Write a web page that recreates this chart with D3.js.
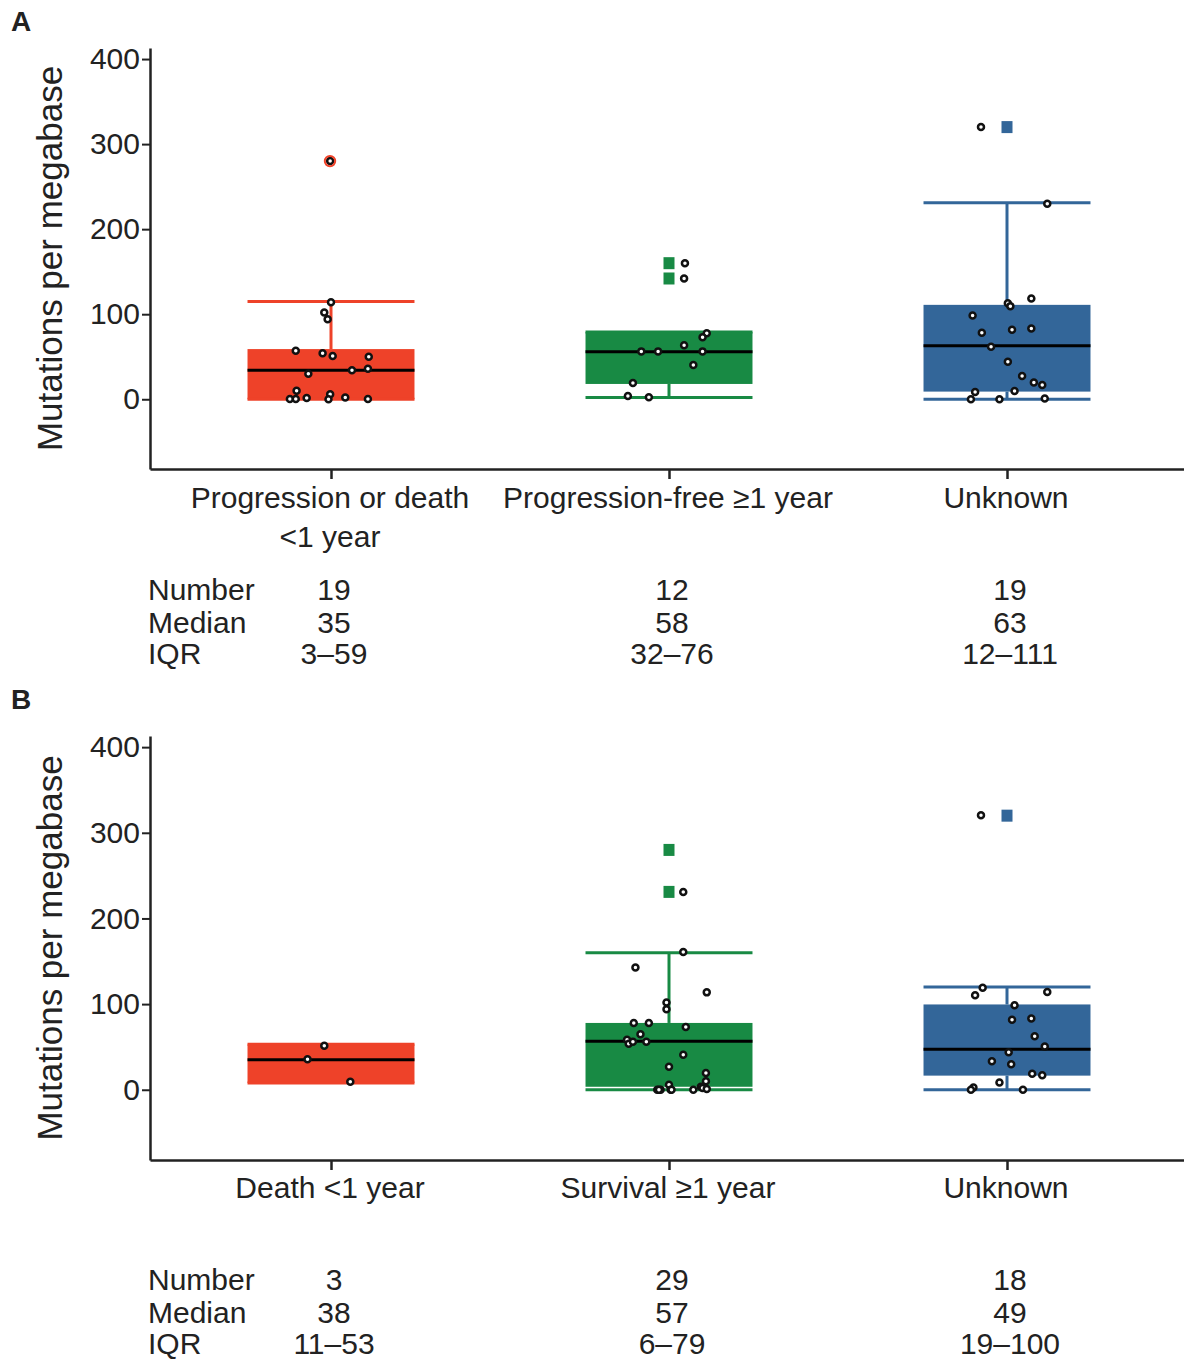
<!DOCTYPE html>
<html><head><meta charset="utf-8">
<script src="https://cdn.jsdelivr.net/npm/d3@7"></script>
<style>
body{margin:0;background:#fff}
text{font-family:"Liberation Sans",Arial,Helvetica,sans-serif;fill:#222}
</style>
</head><body>
<svg id="chart" width="1184" height="1360"></svg>
<script>
// ---------- data ----------
const catsA = [["Progression or death", "<1 year"], ["Progression-free ≥1 year"], ["Unknown"]];
const catsB = [["Death <1 year"], ["Survival ≥1 year"], ["Unknown"]];
const groupColors = ["#ee4229", "#188a44", "#336699"];
const outlierShape = ["circle", "square", "square"];
const yTicks = [0, 100, 200, 300, 400];
const yTitle = "Mutations per megabase";

// Panel A box statistics (as drawn)
const loA = [0, 2, 0];
const q1A = [0, 18, 9];
const medA = [34, 56, 63];
const q3A = [59, 79, 111];
const hiA = [115, 79, 231];
const outA = [[280], [160, 142], [320]];
const ptsA = [
  [280, 114, 102, 94, 57, 54, 51, 50, 30, 34, 36, 10, 0.4, 0.4, 1.5, 6, 0, 2, 0.4],
  [160, 142, 77.5, 72.8, 63.4, 56.3, 56.3, 56.3, 40.3, 19.1, 3.9, 2.3],
  [320, 230, 118.5, 113, 109.5, 98.6, 78.3, 81.8, 83.3, 61.8, 44.2, 27.4, 19.6, 16.8, 9.7, 8.6, 0, 0, 0.8]
];
const jitA = [
  [-0.01, 0, -0.08, -0.04, -0.42, -0.10, 0.02, 0.45, -0.27, 0.25, 0.44, -0.41, -0.49, -0.42, -0.29, -0.01, -0.03, 0.17, 0.44],
  [0.19, 0.18, 0.45, 0.40, 0.18, -0.33, -0.13, 0.40, 0.29, -0.43, -0.49, -0.24],
  [-0.31, 0.48, 0.29, 0.01, 0.04, -0.41, -0.30, 0.06, 0.29, -0.19, 0.01, 0.18, 0.32, 0.42, 0.09, -0.38, -0.43, -0.09, 0.45]
];
const numA = ["19", "12", "19"];
const medTxtA = ["35", "58", "63"];
const iqrA = ["3–59", "32–76", "12–111"];

// Panel B box statistics (as drawn)
const loB = [8, 0, 0];
const q1B = [8, 3.5, 16.5];
const medB = [35, 56.5, 47.4];
const q3B = [53, 78, 99.6];
const hiB = [53, 160, 120];
const outB = [[], [280, 231], [320]];
const ptsB = [
  [51.4, 35.7, 9.4],
  [280, 231, 160.8, 142.7, 113.7, 102, 94, 78, 78, 73.3, 64.7, 58.4, 53.7, 56, 56, 40.8, 27, 19.6, 9.8, 5.9, 3.5, 0, 0, 0, 0, 2, 0.8, 0, 0],
  [320.4, 119.2, 110.2, 114, 98.8, 81.6, 83.1, 62.4, 50.6, 43.9, 33.3, 29.8, 18.8, 16.9, 8.6, 2.7, 0, 0]
];
const jitB = [
  [-0.08, -0.28, 0.23],
  [0, 0.17, 0.17, -0.40, 0.45, -0.03, -0.03, -0.42, -0.24, 0.20, -0.34, -0.50, -0.48, -0.43, -0.27, 0.17, 0, 0.44, 0.44, 0, 0.38, -0.14, -0.10, 0.02, 0.29, 0.40, 0.45, -0.12, 0.03],
  [-0.31, -0.29, -0.38, 0.48, 0.09, 0.06, 0.29, 0.33, 0.45, 0.02, -0.18, 0.05, 0.30, 0.42, -0.09, -0.40, -0.43, 0.19]
];
const numB = ["3", "29", "18"];
const medTxtB = ["38", "57", "49"];
const iqrB = ["11–53", "6–79", "19–100"];

const rowLabels = ["Number", "Median", "IQR"];

// ---------- drawing ----------
const svg = d3.select("#chart");
const axisColor = "#222";

function panel(o) {
  const g = svg.append("g");
  const idx = [0, 1, 2];
  const x = d3.scalePoint().domain(idx).range([150, 1188]).padding(0.5355);
  const step = x.step();
  const boxW = step * 0.494;
  const y = d3.scaleLinear().domain([-82, 413]).range([o.yBottom, o.yTop]);

  // panel letter
  g.append("text").attr("x", 11).attr("y", o.letterY).text(o.letter)
    .style("font-weight", "bold").style("font-size", "28px");

  // y axis
  const ya = g.append("g").attr("transform", "translate(150,0)")
    .call(d3.axisLeft(y).tickValues(yTicks).tickSize(8).tickSizeOuter(0).tickPadding(2));
  ya.select(".domain").attr("stroke", axisColor).attr("stroke-width", 2.5);
  ya.selectAll(".tick line").attr("stroke", axisColor).attr("stroke-width", 2);
  ya.selectAll(".tick text").style("font-size", "30px").style("font-family", '"Liberation Sans",Arial,sans-serif').attr("fill", "#222");

  // x axis
  const xa = g.append("g").attr("transform", `translate(0,${o.yBottom})`)
    .call(d3.axisBottom(x).tickSize(10).tickSizeOuter(0).tickFormat(""));
  xa.select(".domain").attr("stroke", axisColor).attr("stroke-width", 2.5);
  xa.selectAll(".tick line").attr("stroke", axisColor).attr("stroke-width", 2.5);

  // y title
  g.append("text")
    .attr("transform", `translate(62,${(o.yTop + o.yBottom) / 2}) rotate(-90)`)
    .attr("text-anchor", "middle").style("font-size", "35px").text(yTitle);

  // category labels
  idx.forEach(i => {
    o.cats[i].forEach((line, k) => {
      g.append("text").attr("x", x(i) - 1).attr("y", o.labelY + k * 39)
        .attr("text-anchor", "middle").style("font-size", "30px").text(line);
    });
  });

  // boxes
  idx.forEach(i => {
    const c = groupColors[i], cx = x(i);
    const bg = g.append("g");
    bg.append("rect").attr("x", cx - boxW / 2).attr("width", boxW)
      .attr("y", y(o.q3[i])).attr("height", y(o.q1[i]) - y(o.q3[i])).attr("fill", c);
    // whiskers
    [[o.q3[i], o.hi[i]], [o.q1[i], o.lo[i]]].forEach(([a, b]) => {
      if (b !== a) bg.append("line").attr("x1", cx).attr("x2", cx).attr("y1", y(a)).attr("y2", y(b))
        .attr("stroke", c).attr("stroke-width", 3);
      bg.append("line").attr("x1", cx - boxW / 2).attr("x2", cx + boxW / 2)
        .attr("y1", y(b)).attr("y2", y(b)).attr("stroke", c).attr("stroke-width", 3);
    });
    bg.append("line").attr("x1", cx - boxW / 2).attr("x2", cx + boxW / 2)
      .attr("y1", y(o.med[i])).attr("y2", y(o.med[i])).attr("stroke", "#000").attr("stroke-width", 3);

    // points
    bg.selectAll("circle.pt").data(o.pts[i].map((v, k) => ({ v, j: o.jit[i][k] }))).join("circle")
      .attr("class", "pt").attr("cx", d => cx + d.j * boxW / 2 * 1.005).attr("cy", d => y(d.v))
      .attr("r", 3).attr("fill", "#fff").attr("stroke", "#111").attr("stroke-width", 2.5);

    // outlier markers
    o.out[i].forEach(v => {
      if (outlierShape[i] === "circle") {
        bg.append("circle").attr("cx", cx - 1).attr("cy", y(v)).attr("r", 5.2)
          .attr("fill", "none").attr("stroke", c).attr("stroke-width", 2);
      } else {
        bg.append("rect").attr("x", cx - 5.5).attr("y", y(v) - 6).attr("width", 11).attr("height", 12).attr("fill", c);
      }
    });
  });

  // table
  rowLabels.forEach((lab, r) => {
    const ty = o.tableY[r];
    g.append("text").attr("x", 148).attr("y", ty).style("font-size", "30px").text(lab);
    const vals = [o.num, o.medTxt, o.iqr][r];
    idx.forEach(i => {
      g.append("text").attr("x", x(i) + 3).attr("y", ty).attr("text-anchor", "middle")
        .style("font-size", "30px").text(vals[i]);
    });
  });
}

panel({
  letter: "A", letterY: 31, yTop: 48, yBottom: 469, labelY: 508,
  cats: catsA, lo: loA, q1: q1A, med: medA, q3: q3A, hi: hiA, out: outA, pts: ptsA, jit: jitA,
  num: numA, medTxt: medTxtA, iqr: iqrA, tableY: [600, 633, 664]
});
panel({
  letter: "B", letterY: 709, yTop: 736, yBottom: 1160, labelY: 1198,
  cats: catsB, lo: loB, q1: q1B, med: medB, q3: q3B, hi: hiB, out: outB, pts: ptsB, jit: jitB,
  num: numB, medTxt: medTxtB, iqr: iqrB, tableY: [1290, 1323, 1354]
});
</script>
</body></html>
